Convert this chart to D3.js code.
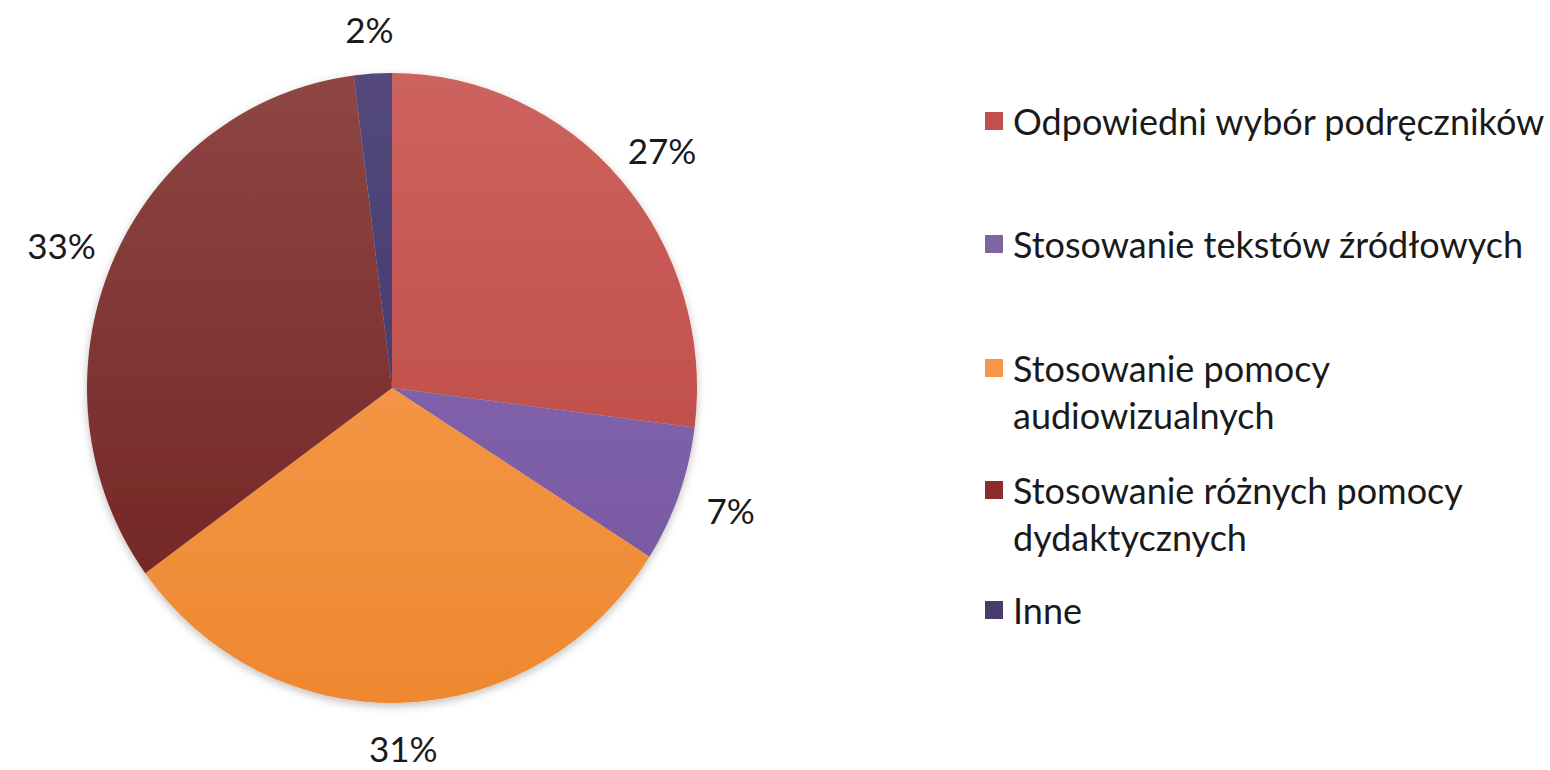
<!DOCTYPE html>
<html><head><meta charset="utf-8">
<script src="https://cdn.jsdelivr.net/npm/d3@7"></script>
<style>body{margin:0;background:#fff}svg{display:block}text{font-family:Lato,"Open Sans",sans-serif;fill:#1a1a1a}</style>
</head><body>
<svg id="c" width="1550" height="770"></svg>
<script>
const categories = ["Odpowiedni wybór podręczników","Stosowanie tekstów źródłowych","Stosowanie pomocy audiowizualnych","Stosowanie różnych pomocy dydaktycznych","Inne"];
const legendLines = [["Odpowiedni wybór podręczników"],["Stosowanie tekstów źródłowych"],["Stosowanie pomocy","audiowizualnych"],["Stosowanie różnych pomocy","dydaktycznych"],["Inne"]];
const values = [27,7,31,33,2];
const labels = ["27%","7%","31%","33%","2%"];
const colorsTop = ["#CD635E","#8C72B2","#F9A25A","#8E4644","#53487C"];
const colorsBottom = ["#B9413D","#7352A0","#EE8830","#6E2020","#3D3163"];
const legendColors = ["#C0504D","#8064A2","#F79646","#8B2E2B","#4B3B6B"];

const svg = d3.select("#c");
const cx = 392, cy = 388, r = 305, sy = 315/305;
const defs = svg.append("defs");
const f = defs.append("filter").attr("id","sh").attr("x","-10%").attr("y","-10%").attr("width","120%").attr("height","120%");
f.append("feDropShadow").attr("dx",0).attr("dy",3).attr("stdDeviation",4).attr("flood-color","#000").attr("flood-opacity",0.25);
categories.forEach((c,i)=>{
  const g = defs.append("linearGradient").attr("id","g"+i).attr("gradientUnits","userSpaceOnUse")
    .attr("x1",0).attr("y1",-r).attr("x2",0).attr("y2",r);
  g.append("stop").attr("offset","0%").attr("stop-color",colorsTop[i]);
  g.append("stop").attr("offset","100%").attr("stop-color",colorsBottom[i]);
});
const pie = d3.pie().sort(null).value(d=>d)(values);
const arc = d3.arc().innerRadius(0).outerRadius(r);
const g = svg.append("g").attr("transform",`translate(${cx},${cy}) scale(1,${sy})`).attr("filter","url(#sh)");
g.selectAll("path").data(pie).enter().append("path").attr("d",arc).attr("fill",(d,i)=>`url(#g${i})`);
const labArc = d3.arc().innerRadius(360).outerRadius(360);
svg.selectAll("text.lab").data(pie).enter().append("text").attr("class","lab")
  .attr("x",d=>cx+labArc.centroid(d)[0]).attr("y",d=>cy+labArc.centroid(d)[1])
  .attr("text-anchor","middle").attr("dominant-baseline","central").attr("font-size",35).text((d,i)=>labels[i]);

const legY = [121,244,368,490,610];
const lg = svg.append("g");
legendLines.forEach((lines,i)=>{
  lg.append("rect").attr("x",985).attr("y",legY[i]-9).attr("width",18).attr("height",18).attr("fill",legendColors[i]);
  lines.forEach((t,j)=>{
    lg.append("text").attr("x",1013).attr("y",legY[i]+j*47).attr("dominant-baseline","central").attr("font-size",36).text(t);
  });
});
</script></body></html>
